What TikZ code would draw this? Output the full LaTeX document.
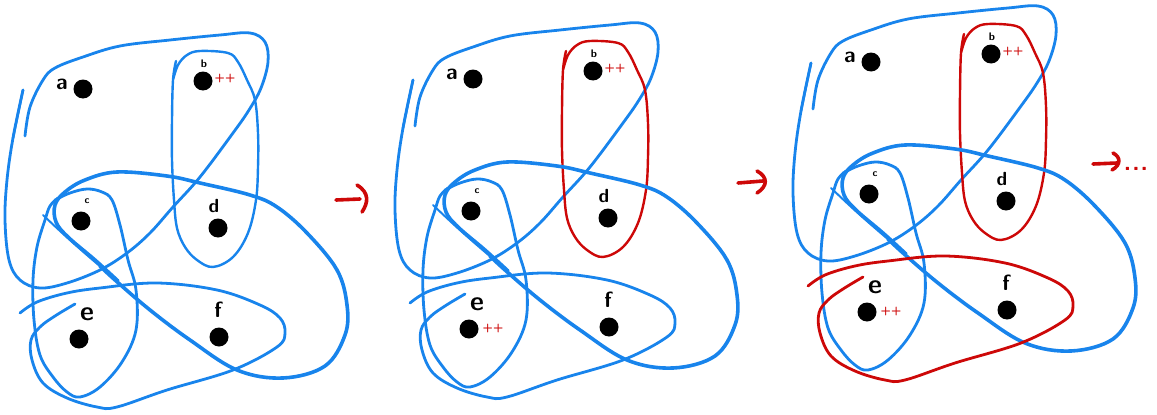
\documentclass[tikz,border=0pt]{standalone}
\begin{document}
\definecolor{hblue}{RGB}{24,132,236}
\definecolor{hred}{RGB}{205,8,8}
\tikzset{
  dot/.style={circle,fill=black,inner sep=0pt,minimum size=19pt},
  lbl/.style={inner sep=0pt,font=\sffamily\bfseries\fontsize{#1}{#1}\selectfont},
  pmark/.style={inner sep=0pt,text=hred,font=\sffamily\bfseries\fontsize{12}{12}\selectfont},
  strk/.style={line width=#1,line cap=round,line join=round},
  hA/.style={insert path={plot[smooth,tension=0.6] coordinates {(25,136) (30,107) (43,80) (55,68) (83,57) (120,46) (170,40) (220,35) (250,33) (265,42) (268,62) (261,88) (249,110) (233,133) (200,177) (173,207) (150,233) (127,253) (100,270) (67,283) (40,288) (20,280) (9,260) (5,220) (7,180) (13,138) (23,90)}}},
  hB/.style={insert path={plot[smooth,tension=0.6] coordinates {(176,61) (173,80) (172,120) (172,160) (174,200) (177,228) (185,247) (197,260) (213,267) (233,257) (248,233) (256,200) (258,167) (258,133) (255,100) (247,80) (238,62) (228,53) (200,51) (187,55) (178,65) (173,80)}}},
  hC/.style={insert path={plot[smooth,tension=0.6] coordinates {(100,266) (115,280) (150,310) (190,340) (237,370) (283,378) (325,366) (345,335) (347,305) (337,270) (307,233) (277,207) (250,195) (200,183) (167,176) (117,172) (85,180) (65,192) (55,205) (56,222) (68,237) (95,260) (118,281)}}},
  hCs/.style={insert path={plot[smooth,tension=0.6] coordinates {(43,215) (60,231) (80,249) (102,268)}}},
  hD/.style={insert path={plot[smooth,tension=0.6] coordinates {(55,200) (70,193) (87,189) (102,192) (112,200) (120,225) (128,260) (136,290) (136,330) (122,362) (100,387) (80,397) (67,392) (53,377) (40,355) (34,320) (33,280) (37,247) (45,220) (50,206) (58,198)}}},
  hE/.style={insert path={plot[smooth,tension=0.6] coordinates {(20,313) (37,302) (67,293) (100,288) (157,283) (217,290) (260,305) (280,318) (285,333) (277,347) (233,370) (167,390) (117,407) (97,407) (67,398) (43,383) (32,360) (31,340) (40,327) (55,316) (75,304)}}}
}
\newcommand\hgpanel[4]{%
  \draw[hblue,strk=2.8pt,hA];
  \draw[hblue,strk=2.4pt] (23,90) -- (13,138);
  \draw[#2,strk=2.4pt,hB];
  \draw[hblue,strk=2pt,hCs];
  \draw[hblue,strk=3.6pt,hC];
  \draw[hblue,strk=2.8pt,hD];
  \draw[#3,strk=2.8pt,hE];
  \node[dot] (#1a) at (83,89) {};
  \node[dot] (#1b) at (203,81) {};
  \node[dot] (#1c) at (81,221) {};
  \node[dot] (#1d) at (218,228) {};
  \node[dot] (#1e) at (79,339) {};
  \node[dot] (#1f) at (219,337) {};
  \node[lbl=22] (#1la) at (62,84) {a};
  \node[lbl=11] (#1lb) at (204,64) {b};
  \node[lbl=10] (#1lc) at (87,201) {c};
  \node[lbl=19] (#1ld) at (214,206) {d};
  \node[lbl=27] (#1le) at (87,314) {e};
  \node[lbl=22] (#1lf) at (218,310) {f};
  \node[pmark] (#1pb) at (225,78) {++};
  \ifnum#4=1 \node[pmark] (#1pe) at (103,338) {++};\fi
}
\begin{tikzpicture}[x=1pt,y=-1pt]
\useasboundingbox (0,0) rectangle (1157,415);
\begin{scope}
  \hgpanel{p1}{hblue}{hblue}{0}
\end{scope}
\begin{scope}[shift={(390,-10)}]
  \hgpanel{p2}{hred}{hblue}{1}
\end{scope}
\begin{scope}[shift={(788,-27)}]
  \hgpanel{p3}{hred}{hred}{1}
\end{scope}
% arrows between panels
\coordinate (r1s) at (336,200); \coordinate (r1e) at (360,199);
\draw[hred,strk=3.6pt] (r1s) -- (r1e);
\draw[hred,strk=3.6pt] (357,185) .. controls (370,193) and (368,203) .. (362,212);
\coordinate (r2s) at (738,183); \coordinate (r2e) at (763,181);
\draw[hred,strk=3.6pt] (r2s) -- (r2e);
\draw[hred,strk=3.6pt] (757,171) .. controls (768,177) and (768,186) .. (757,193);
\coordinate (r3s) at (1093,164); \coordinate (r3e) at (1117,163);
\draw[hred,strk=3.6pt] (r3s) -- (r3e);
\draw[hred,strk=3.6pt] (1113,153) .. controls (1121,157) and (1121,165) .. (1112,170);
\node[pmark,font=\sffamily\bfseries\fontsize{24}{24}\selectfont] (dots) at (1136,169) {.\kern1pt.\kern1pt.};
\end{tikzpicture}
\end{document}
